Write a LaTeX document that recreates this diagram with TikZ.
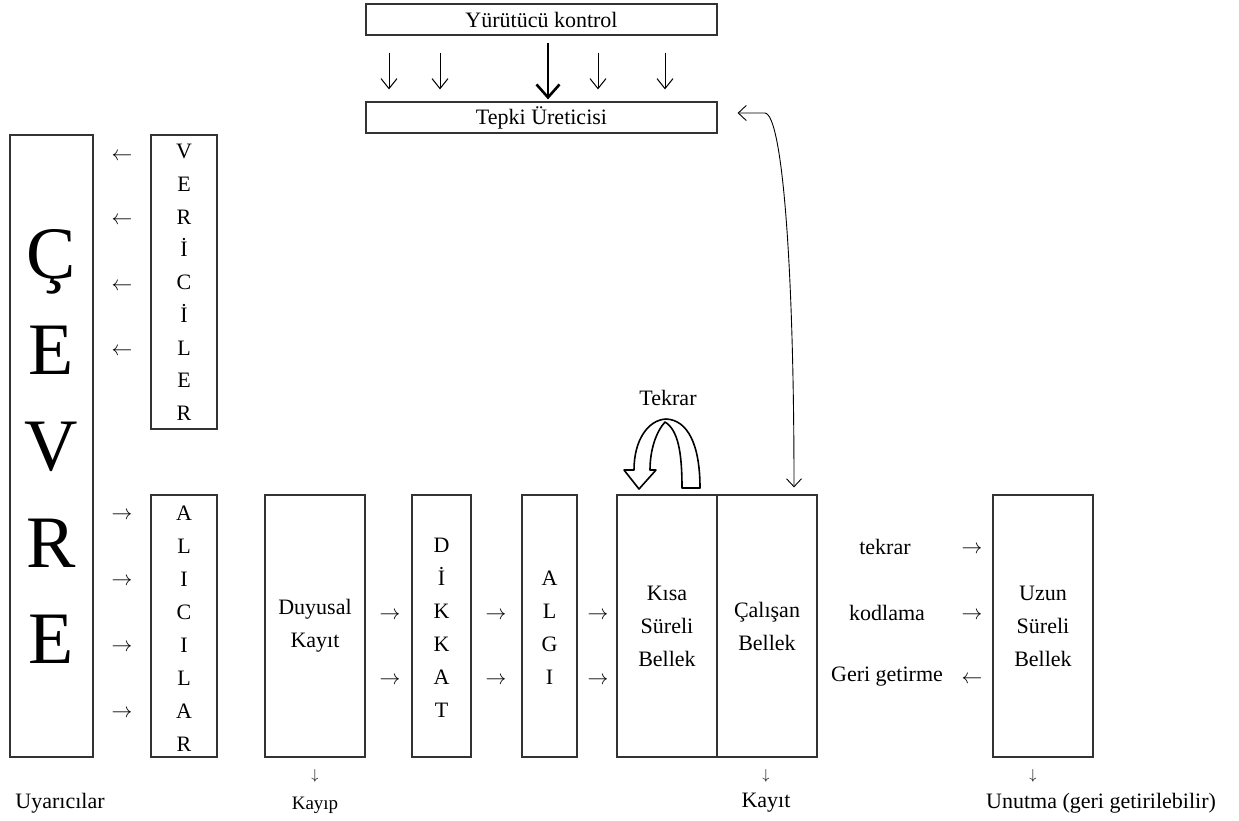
\documentclass[tikz,border=0pt]{standalone}
\usepackage{fontspec}
\setmainfont{Liberation Serif}
\usetikzlibrary{arrows.meta}
\begin{document}
\begin{tikzpicture}[x=1pt,y=-1pt,
  box/.style={draw=black!80, line width=1.2pt, inner sep=0pt, align=center},
  txt/.style={inner sep=0pt, align=center},
  glyph/.style={inner sep=0pt},
  arr/.style={inner sep=0pt, yshift=-2.5pt},
  barb/.style={-{Straight Barb[length=10pt,width=16pt]}, line width=1pt},
  bigbarb/.style={-{Straight Barb[length=13pt,width=23pt]}, line width=2.6pt},
  every node/.style={font=\fontsize{22}{33}\selectfont}]
\useasboundingbox (0,0) rectangle (1239,821);
% top boxes
\node[box, minimum width=351pt, minimum height=31pt] (yk) at (541.5,19.5) {Yürütücü kontrol};
\node[box, minimum width=351pt, minimum height=31pt] (tu) at (541.5,117.5) {Tepki Üreticisi};
\foreach \dx in {-152.5,-101.5,56.5,123.5}
  \draw[barb, shorten <=17pt, shorten >=12pt] ([xshift=\dx pt]yk.south) -- ([xshift=\dx pt]tu.north);
\draw[bigbarb, shorten <=7pt, shorten >=2pt] ([xshift=6.5pt]yk.south) -- ([xshift=6.5pt]tu.north);
% left column boxes
\node[box, minimum width=83pt, minimum height=622pt] (cevre) at (51.5,446) {};
\node[box, minimum width=66pt, minimum height=294pt] (verici) at (184,282) {};
\node[box, minimum width=66pt, minimum height=262pt] (alici) at (184,626) {};
\foreach \l/\yy [count=\i] in {Ç/278,E/374,V/470.5,R/567,E/663}
  \node[glyph, anchor=base, font=\fontsize{74}{80}\selectfont, name=cv\i] at (51.5,\yy) {\l};
\foreach \l [count=\i] in {V,E,R,İ,C,İ,L,E,R}
  \node[glyph, anchor=base, name=ve\i] at (184,{158.5+32.75*(\i-1)}) {\l};
\foreach \l [count=\i] in {A,L,I,C,I,L,A,R}
  \node[glyph, anchor=base, name=al\i] at (184,{520.5+33*(\i-1)}) {\l};
\foreach \yy [count=\i] in {154,218,284,349}
  \node[arr, name=la\i] at (122,\yy) {$\leftarrow$};
\foreach \yy [count=\i] in {513,579,645,711}
  \node[arr, name=ra\i] at (122,\yy) {$\rightarrow$};
% processing chain
\node[box, minimum width=100pt, minimum height=262pt] (duy) at (315,626) {Duyusal\\Kayıt};
\node[box, minimum width=59pt, minimum height=262pt] (dik) at (441.5,626) {};
\node[box, minimum width=55pt, minimum height=262pt] (alg) at (549.5,626) {};
\node[box, minimum width=100pt, minimum height=262pt] (ksb) at (667,626) {Kısa\\Süreli\\Bellek};
\node[box, minimum width=100pt, minimum height=262pt] (cb) at (767,626) {Çalışan\\Bellek};
\node[box, minimum width=100pt, minimum height=262pt] (usb) at (1043,626) {Uzun\\Süreli\\Bellek};
\foreach \l [count=\i] in {D,İ,K,K,A,T}
  \node[glyph, anchor=base, name=dk\i] at (441.5,{552.5+33*(\i-1)}) {\l};
\foreach \l [count=\i] in {A,L,G,I}
  \node[glyph, anchor=base, name=ag\i] at (549.5,{585.5+33*(\i-1)}) {\l};
\foreach \xx/\yy [count=\i] in {390/613,390/678,496/613,496/678,598/613,598/678}
  \node[arr, name=ch\i] at (\xx,\yy) {$\rightarrow$};
% right labels
\node[txt] (tk) at (885,547) {tekrar};
\node[arr] (tka) at (972,547) {$\rightarrow$};
\node[txt] (kd) at (887,613) {kodlama};
\node[arr] (kda) at (972,613) {$\rightarrow$};
\node[txt] (gg) at (887,677) {Geri getirme};
\node[arr] (gga) at (972,677) {$\leftarrow$};
% bottom labels
\node[glyph, font=\fontsize{14}{16}\selectfont] (d1) at (315,776) {$\downarrow$};
\node[txt, font=\fontsize{19}{22}\selectfont] (kayip) at (315,805) {Kayıp};
\node[txt] (uy) at (60,803) {Uyarıcılar};
\node[glyph, font=\fontsize{14}{16}\selectfont] (d2) at (766,776) {$\downarrow$};
\node[txt] (kayit) at (766,803) {Kayıt};
\node[glyph, font=\fontsize{14}{16}\selectfont] (d3) at (1033,776) {$\downarrow$};
\node[txt] (un) at (1101,803) {Unutma (geri getirilebilir)};
% Tekrar loop
\node[txt] (tekrar) at (668,398) {Tekrar};
\draw[line width=1.6pt, fill=white, line join=round]
  (700,488) -- (682,488) .. controls (682,452) and (678,430) .. (665,422)
  .. controls (656,432) and (650,450) .. (650,470) -- (656,470) -- (639,489) -- (624,470) -- (634,470)
  .. controls (634,440) and (648,420) .. (666,419)
  .. controls (688,420) and (700,445) .. (700,488) -- cycle;
% feedback arrow
\coordinate (bend) at (765,113);
\draw[{Straight Barb[length=8pt,width=15pt]}-{Straight Barb[length=8pt,width=15pt]}, line width=0.9pt]
  ([xshift=20pt,yshift=4.5pt]tu.east) -- (bend) .. controls (782,115) and (794,260) .. ([xshift=27pt,yshift=7pt]cb.north);
\end{tikzpicture}
\end{document}
